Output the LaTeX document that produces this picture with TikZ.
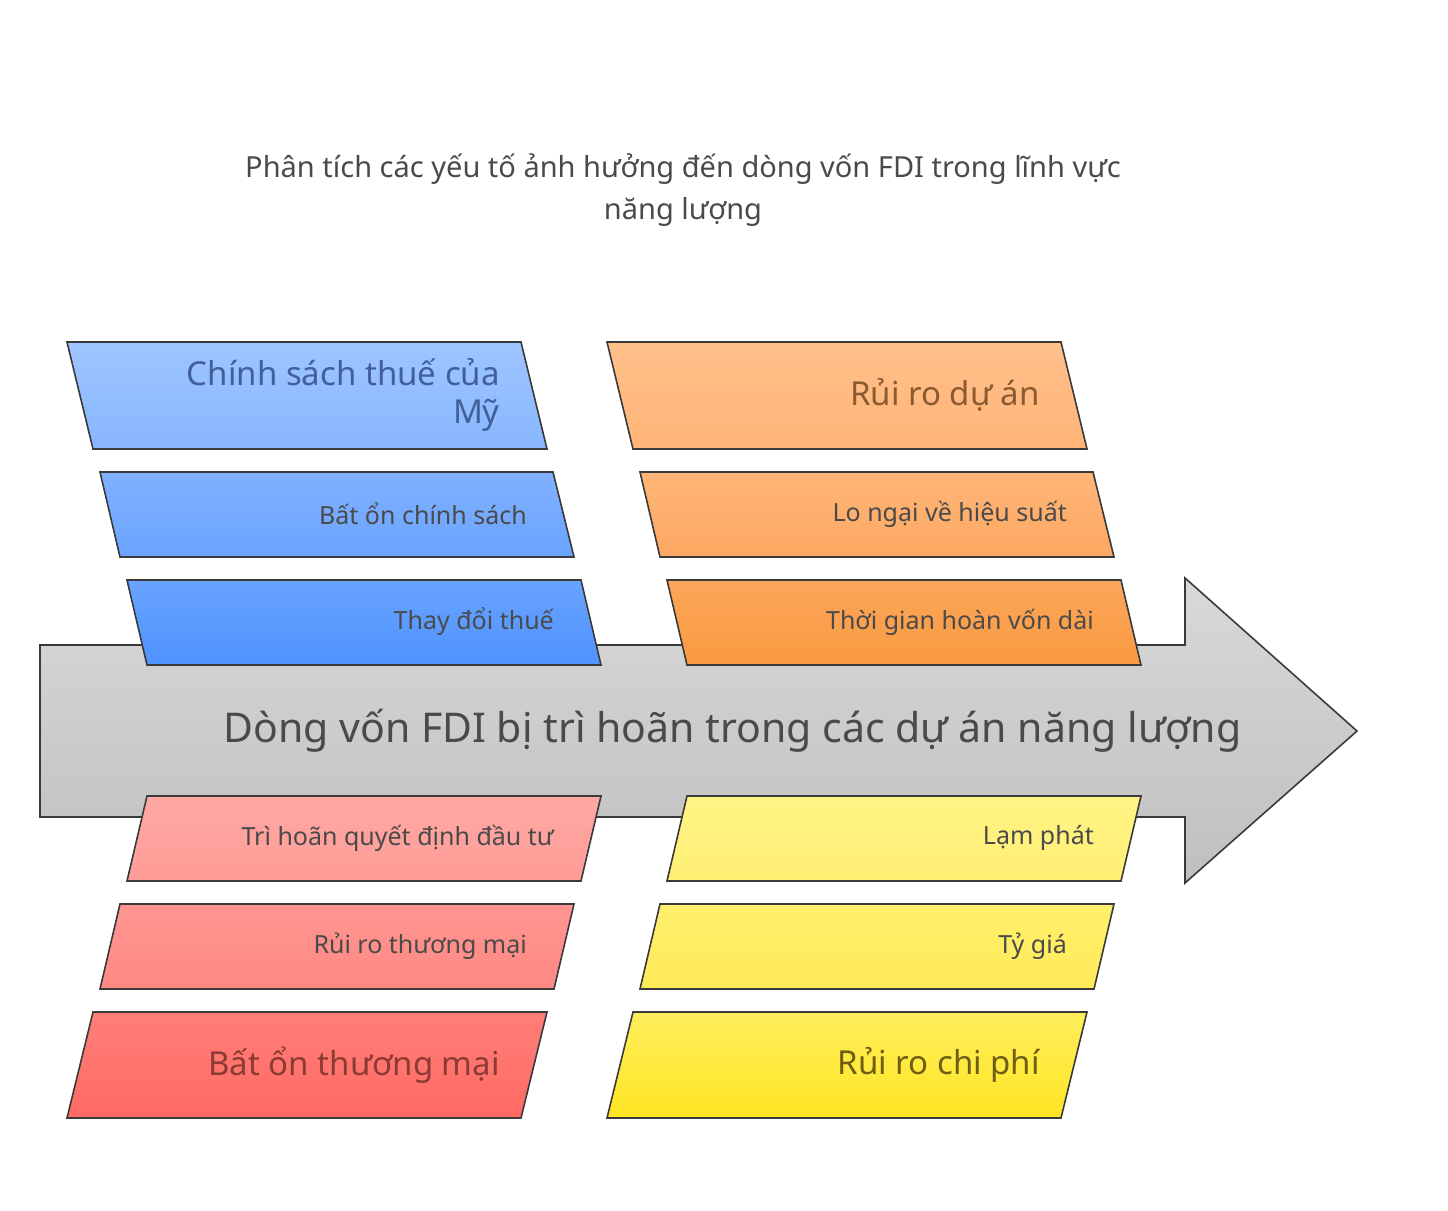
\documentclass[tikz,border=0pt]{standalone}
\usepackage{fontspec}
\setmainfont{Noto Sans}
\definecolor{txt}{HTML}{4A4A4A}
\definecolor{edge}{HTML}{3A3A3A}
\definecolor{blueA}{HTML}{9EC5FF}\definecolor{blueB}{HTML}{88B6FF}
\definecolor{blueC}{HTML}{80B1FF}\definecolor{blueD}{HTML}{6AA3FF}
\definecolor{blueE}{HTML}{68A3FF}\definecolor{blueF}{HTML}{4F93FF}
\definecolor{orA}{HTML}{FFC08A}\definecolor{orB}{HTML}{FFB478}
\definecolor{orC}{HTML}{FFB578}\definecolor{orD}{HTML}{FDA862}
\definecolor{orE}{HTML}{FCA65A}\definecolor{orF}{HTML}{F99A40}
\definecolor{redA}{HTML}{FFA8A3}\definecolor{redB}{HTML}{FF9C97}
\definecolor{redC}{HTML}{FF9590}\definecolor{redD}{HTML}{FF8983}
\definecolor{redE}{HTML}{FF7F78}\definecolor{redF}{HTML}{FF6A63}
\definecolor{yelA}{HTML}{FFF384}\definecolor{yelB}{HTML}{FFEF74}
\definecolor{yelC}{HTML}{FFEF6C}\definecolor{yelD}{HTML}{FFEA58}
\definecolor{yelE}{HTML}{FFEE5C}\definecolor{yelF}{HTML}{FFE522}
\definecolor{blueT}{HTML}{41609A}\definecolor{orT}{HTML}{8A5A30}
\definecolor{redT}{HTML}{8C3A36}\definecolor{yelT}{HTML}{6E5E14}
\tikzset{
  bone/.style={draw=edge, line width=1.6pt, line join=miter},
  lbl/.style={anchor=east, font=\fontsize{25}{30}\selectfont, text=txt, inner sep=0pt},
  head/.style={anchor=east, font=\fontsize{33}{38}\selectfont\bfseries, align=right, inner sep=0pt}
}
% box: corner points (bl, tl, tr, br), top colour, bottom colour
\newcommand{\fishbox}[6]{%
  \shade[bone, top color=#5, bottom color=#6] #2 -- #3 -- #4 -- #1 -- cycle;}
\begin{document}
\begin{tikzpicture}[x=1pt, y=-1pt]
  \useasboundingbox (0,0) rectangle (1448,1210);
  % title
  \node[font=\fontsize{29}{42}\selectfont\bfseries, text=txt, align=center] (title) at (683,190)
    {Phân tích các yếu tố ảnh hưởng đến dòng vốn FDI trong lĩnh vực\\năng lượng};
  % spine
  \shade[bone, top color=gray!30, bottom color=gray!50]
    (40,645) -- (1185,645) -- (1185,578) -- (1357,731) -- (1185,883) -- (1185,817) -- (40,817) -- cycle;
  \node[anchor=east, font=\fontsize{41}{46}\selectfont\bfseries, text=txt] (effect) at (1245,731)
    {Dòng vốn FDI bị trì hoãn trong các dự án năng lượng};
  % upper left
  \fishbox{(93,449)}{(67,342)}{(521,342)}{(547,449)}{blueA}{blueB}
  \node[head, text=blueT] (thue) at (500,395) {Chính sách thuế của\\Mỹ};
  \fishbox{(120,557)}{(100,472)}{(553,472)}{(574,557)}{blueC}{blueD}
  \node[lbl] (batonchinhsach) at (527,514) {Bất ổn chính sách};
  \fishbox{(147,665)}{(127,580)}{(581,580)}{(601,665)}{blueE}{blueF}
  \node[lbl] (thaydoithue) at (554,622) {Thay đổi thuế};
  % upper right
  \fishbox{(633,449)}{(607,342)}{(1061,342)}{(1087,449)}{orA}{orB}
  \node[head, text=orT] (ruirodan) at (1040,395) {Rủi ro dự án};
  \fishbox{(660,557)}{(640,472)}{(1093,472)}{(1114,557)}{orC}{orD}
  \node[lbl] (hieusuat) at (1067,514) {Lo ngại về hiệu suất};
  \fishbox{(687,665)}{(667,580)}{(1121,580)}{(1141,665)}{orE}{orF}
  \node[lbl] (hoanvon) at (1094,622) {Thời gian hoàn vốn dài};
  % lower left
  \fishbox{(127,881)}{(147,796)}{(601,796)}{(581,881)}{redA}{redB}
  \node[lbl] (trihoan) at (554,838) {Trì hoãn quyết định đầu tư};
  \fishbox{(100,989)}{(120,904)}{(574,904)}{(554,989)}{redC}{redD}
  \node[lbl] (ruirothuongmai) at (527,946) {Rủi ro thương mại};
  \fishbox{(67,1118)}{(93,1012)}{(547,1012)}{(521,1118)}{redE}{redF}
  \node[head, text=redT] (batonthuongmai) at (500,1065) {Bất ổn thương mại};
  % lower right
  \fishbox{(667,881)}{(687,796)}{(1141,796)}{(1121,881)}{yelA}{yelB}
  \node[lbl] (lamphat) at (1094,838) {Lạm phát};
  \fishbox{(640,989)}{(660,904)}{(1114,904)}{(1094,989)}{yelC}{yelD}
  \node[lbl] (tygia) at (1067,946) {Tỷ giá};
  \fishbox{(607,1118)}{(633,1012)}{(1087,1012)}{(1061,1118)}{yelE}{yelF}
  \node[head, text=yelT] (chiphi) at (1040,1065) {Rủi ro chi phí};
\end{tikzpicture}
\end{document}
